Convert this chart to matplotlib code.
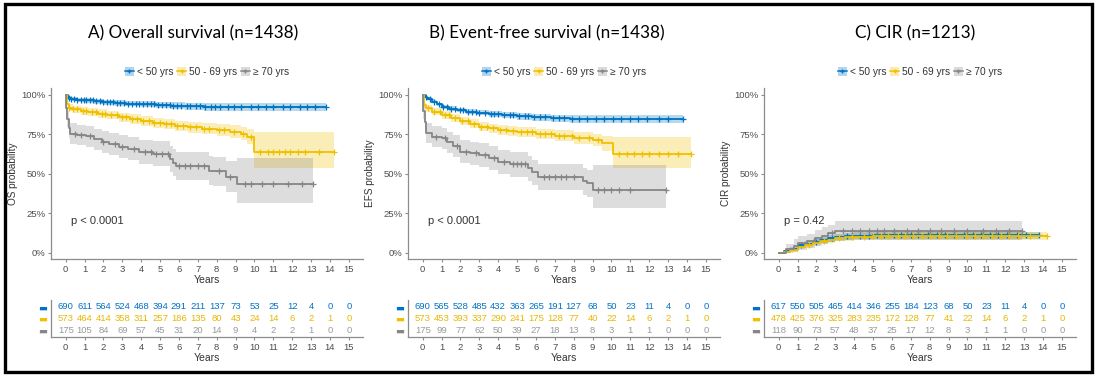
import numpy as np
import matplotlib
matplotlib.use("Agg")
import matplotlib.pyplot as plt
from matplotlib.patches import Patch, Rectangle
from matplotlib.lines import Line2D

plt.rcParams["font.family"] = ["Liberation Sans", "DejaVu Sans"]

groups = ["< 50 yrs", "50 - 69 yrs", "\u2265 70 yrs"]
colors = ["#0073C2", "#EFC000", "#868686"]
titles = ["A) Overall survival (n=1438)", "B) Event-free survival (n=1438)", "C) CIR (n=1213)"]
ylabels = ["OS probability", "EFS probability", "CIR probability"]
pvals = ["p < 0.0001", "p < 0.0001", "p = 0.42"]
years = list(range(16))

# ---- A) overall survival ----
os_blue_t = [0, 0.1, 0.3, 0.6, 1.0, 1.5, 2.0, 2.6, 3.2, 4.0, 4.8, 5.6, 6.3, 7.3, 8.5, 13.8]
os_blue_s = [100, 98.2, 97.6, 97.0, 96.5, 96.0, 95.5, 95.0, 94.5, 94.0, 93.5, 93.2, 92.9, 92.5, 92.3, 92.3]
os_blue_lo = [100, 97.2, 96.4, 95.7, 95.1, 94.5, 93.9, 93.3, 92.7, 92.1, 91.5, 91.0, 90.6, 90.1, 89.8, 89.8]
os_blue_hi = [100, 99.2, 98.8, 98.3, 97.9, 97.5, 97.1, 96.7, 96.3, 95.9, 95.5, 95.4, 95.2, 94.9, 94.8, 94.8]
os_blue_cens = [0.15, 0.3, 0.45, 0.6, 0.8, 0.95, 1.1, 1.3, 1.45, 1.6, 1.8, 2.0, 2.2, 2.35, 2.5, 2.7,
                2.9, 3.1, 3.3, 3.5, 3.7, 3.9, 4.1, 4.3, 4.5, 4.7, 4.9, 5.1, 5.3, 5.5, 5.7, 5.9,
                6.1, 6.4, 6.6, 6.9, 7.1, 7.4, 7.7, 7.9, 8.2, 8.6, 8.9, 9.3, 9.8, 10.2, 10.6,
                11.0, 11.5, 11.9, 12.4, 12.8, 13.2, 13.8]

os_yel_t = [0, 0.05, 0.15, 0.4, 0.8, 1.2, 1.7, 2.2, 2.8, 3.4, 4.0, 4.6, 5.2, 5.8, 6.5, 7.2, 8.0, 8.7, 9.3, 9.6, 10.0, 14.2]
os_yel_s = [100, 94.0, 92.0, 91.0, 90.0, 89.0, 88.2, 87.2, 86.0, 84.8, 83.5, 82.5, 81.5, 80.5, 79.5, 78.6, 77.8, 76.8, 75.5, 73.5, 64.0, 64.0]
os_yel_lo = [100, 92.2, 90.0, 88.8, 87.6, 86.5, 85.6, 84.5, 83.2, 81.9, 80.5, 79.4, 78.3, 77.2, 76.0, 75.0, 74.0, 72.8, 71.2, 68.8, 54.0, 54.0]
os_yel_hi = [100, 95.8, 94.0, 93.2, 92.4, 91.5, 90.8, 89.9, 88.8, 87.7, 86.5, 85.6, 84.7, 83.8, 83.0, 82.2, 81.6, 80.8, 79.8, 78.2, 76.5, 76.5]
os_yel_cens = [0.2, 0.4, 0.6, 0.9, 1.1, 1.4, 1.6, 1.9, 2.1, 2.4, 2.7, 3.0, 3.2, 3.5, 3.8, 4.1,
               4.4, 4.7, 5.0, 5.3, 5.6, 5.9, 6.2, 6.6, 6.9, 7.3, 7.6, 8.1, 8.4, 8.9, 9.4, 9.8,
               10.3, 10.7, 11.0, 11.3, 11.6, 11.9, 12.3, 12.7, 13.4, 14.2]

os_grey_t = [0, 0.03, 0.08, 0.15, 0.25, 0.6, 1.1, 1.5, 1.9, 2.3, 2.8, 3.3, 3.9, 4.6, 5.5, 5.7, 5.85, 7.6, 7.8, 8.5, 9.1, 13.1]
os_grey_s = [100, 92, 85, 79, 75.5, 74.7, 73.8, 72.0, 70.2, 68.8, 67.3, 66.0, 64.2, 62.7, 59.5, 57.0, 54.8, 52.0, 51.6, 48.3, 43.5, 43.5]
os_grey_lo = [100, 88, 80, 73, 69, 68.3, 67.3, 65.3, 63.3, 61.8, 60.1, 58.6, 56.6, 54.8, 51.2, 48.5, 46.0, 42.8, 42.3, 38.6, 31.8, 31.8]
os_grey_hi = [100, 96, 90, 85, 82, 81.2, 80.3, 78.7, 77.1, 75.8, 74.5, 73.4, 71.8, 70.6, 67.8, 65.5, 63.6, 61.2, 60.9, 58.0, 59.9, 59.9]
os_grey_cens = [0.5, 0.8, 1.3, 2.0, 2.6, 3.0, 3.6, 4.2, 4.5, 4.8, 5.1, 5.4, 6.0, 6.3, 6.6, 7.0,
                7.3, 8.1, 8.7, 9.5, 9.8, 10.4, 11.0, 11.8, 12.5, 13.1]

# ---- B) event-free survival ----
efs_blue_t = [0, 0.1, 0.25, 0.5, 0.75, 1.0, 1.4, 1.8, 2.3, 2.9, 3.5, 4.2, 5.0, 5.8, 6.8, 7.8, 9.0, 13.8]
efs_blue_s = [100, 98.5, 97.5, 95.8, 94.0, 92.6, 91.3, 90.4, 89.5, 88.7, 88.0, 87.2, 86.4, 85.9, 85.2, 84.8, 84.5, 84.5]
efs_blue_lo = [100, 97.8, 96.6, 94.7, 92.8, 91.3, 89.9, 88.9, 87.9, 87.0, 86.2, 85.3, 84.4, 83.8, 82.9, 82.4, 82.0, 82.0]
efs_blue_hi = [100, 99.2, 98.4, 96.9, 95.2, 93.9, 92.7, 91.9, 91.1, 90.4, 89.8, 89.1, 88.4, 88.0, 87.5, 87.2, 87.0, 87.0]
efs_blue_cens = [0.2, 0.4, 0.6, 0.85, 1.1, 1.3, 1.5, 1.7, 1.95, 2.15, 2.4, 2.6, 2.8, 3.0, 3.3, 3.6,
                 3.8, 4.0, 4.3, 4.6, 4.8, 5.1, 5.4, 5.6, 5.9, 6.2, 6.5, 6.9, 7.2, 7.5, 7.9, 8.3,
                 8.7, 9.2, 9.6, 10.1, 10.5, 11.0, 11.4, 11.9, 12.5, 13.0, 13.8]

efs_yel_t = [0, 0.05, 0.2, 0.5, 1.0, 1.5, 2.0, 2.5, 3.0, 3.5, 4.0, 4.5, 5.0, 6.0, 7.0, 8.0, 9.0, 9.5, 10.1, 14.2]
efs_yel_s = [100, 93.7, 91.6, 89.5, 87.3, 85.4, 83.5, 81.8, 80.0, 78.8, 77.8, 77.0, 76.4, 75.3, 74.3, 73.0, 71.5, 69.4, 62.4, 62.4]
efs_yel_lo = [100, 91.8, 89.5, 87.2, 84.8, 82.8, 80.8, 79.0, 77.1, 75.8, 74.7, 73.8, 73.1, 71.9, 70.7, 69.2, 67.4, 64.8, 53.6, 53.6]
efs_yel_hi = [100, 95.6, 93.7, 91.8, 89.8, 88.0, 86.2, 84.6, 82.9, 81.8, 80.9, 80.2, 79.7, 78.7, 77.9, 76.8, 75.6, 74.0, 73.6, 73.6]
efs_yel_cens = [0.3, 0.6, 0.9, 1.2, 1.4, 1.7, 2.1, 2.4, 2.7, 3.1, 3.4, 3.7, 4.1, 4.4, 4.8, 5.2,
                5.5, 5.8, 6.2, 6.5, 6.8, 7.2, 7.5, 7.9, 8.3, 8.8, 9.3, 10.4, 10.8, 11.2, 11.6,
                12.0, 12.5, 13.0, 13.5, 14.2]

efs_grey_t = [0, 0.03, 0.1, 0.2, 0.5, 1.0, 1.3, 1.6, 2.0, 2.5, 3.0, 3.5, 4.0, 4.6, 5.6, 5.8, 6.1, 8.5, 8.7, 9.0, 12.9]
efs_grey_s = [100, 90, 83, 76, 73.6, 72.6, 70.0, 67.5, 64.1, 63.0, 62.0, 59.9, 57.8, 56.1, 53.6, 51.0, 48.3, 45.5, 44.0, 39.9, 39.9]
efs_grey_lo = [100, 85, 77, 69.5, 67, 65.9, 63.2, 60.5, 57.0, 55.8, 54.7, 52.4, 50.2, 48.4, 45.7, 42.9, 40.0, 37.0, 35.4, 28.3, 28.3]
efs_grey_hi = [100, 95, 89, 82.5, 80.2, 79.3, 76.8, 74.5, 71.2, 70.2, 69.3, 67.4, 65.4, 63.8, 61.5, 59.1, 56.6, 54.0, 52.6, 55.7, 55.7]
efs_grey_cens = [0.7, 1.2, 1.8, 2.3, 2.8, 3.3, 3.8, 4.3, 4.8, 5.0, 5.2, 5.4, 6.4, 6.7, 7.0,
                 7.3, 7.6, 8.0, 9.3, 9.6, 10.0, 10.4, 11.0, 12.9]

# ---- C) cumulative incidence of relapse ----
cir_blue_t = [0, 0.3, 0.6, 1.0, 1.4, 1.8, 2.2, 2.6, 3.0, 3.5, 4.0, 5.0, 6.0, 13.8]
cir_blue_s = [0, 1.0, 2.5, 4.8, 6.0, 7.2, 8.2, 9.2, 10.0, 10.5, 10.9, 11.1, 11.3, 11.3]
cir_blue_lo = [0, 0.2, 1.2, 3.2, 4.3, 5.4, 6.3, 7.2, 7.9, 8.4, 8.7, 8.9, 9.0, 9.0]
cir_blue_hi = [0, 1.8, 3.8, 6.4, 7.7, 9.0, 10.1, 11.2, 12.1, 12.6, 13.1, 13.3, 13.6, 13.6]
cir_blue_cens = [1.2, 2.0, 2.8, 3.6, 4.3, 4.8, 5.2, 5.6, 6.1, 6.5, 7.0, 7.4, 7.9, 8.4, 8.8,
                 9.3, 9.8, 10.3, 10.7, 11.2, 11.6, 12.1, 12.6, 13.1, 13.8]

cir_yel_t = [0, 0.3, 0.6, 1.0, 1.4, 1.8, 2.2, 2.6, 3.0, 3.5, 4.0, 5.0, 6.0, 14.2]
cir_yel_s = [0, 0.5, 1.8, 3.8, 5.0, 6.3, 7.5, 8.5, 9.3, 9.9, 10.3, 10.6, 10.8, 10.8]
cir_yel_lo = [0, 0.0, 0.8, 2.4, 3.4, 4.6, 5.7, 6.6, 7.3, 7.8, 8.1, 8.4, 8.5, 8.5]
cir_yel_hi = [0, 1.0, 2.8, 5.2, 6.6, 8.0, 9.3, 10.4, 11.3, 12.0, 12.5, 12.8, 13.1, 13.1]
cir_yel_cens = [1.6, 2.4, 3.2, 3.9, 4.5, 5.0, 5.4, 5.8, 6.3, 6.7, 7.1, 7.6, 8.0, 8.5, 8.9, 9.4,
                9.9, 10.4, 10.8, 11.3, 11.8, 12.2, 12.7, 13.3, 14.2]

cir_grey_t = [0, 0.4, 0.8, 1.0, 1.5, 1.9, 2.3, 2.6, 3.0, 12.9]
cir_grey_s = [0, 2.5, 4.5, 6.1, 7.5, 9.3, 11.0, 12.4, 14.0, 14.0]
cir_grey_lo = [0, 0.0, 0.8, 1.9, 3.0, 4.5, 5.9, 7.1, 8.4, 8.4]
cir_grey_hi = [0, 5.5, 8.6, 10.5, 12.2, 14.3, 16.3, 18.0, 20.5, 20.5]
cir_grey_cens = [2.8, 3.4, 3.9, 4.3, 4.8, 5.2, 5.6, 6.1, 6.8, 7.4, 8.0, 8.6, 9.3, 10.0, 10.8,
                 11.5, 12.2, 12.9]

# ---- numbers at risk ----
os_risk_blue = [690, 611, 564, 524, 468, 394, 291, 211, 137, 73, 53, 25, 12, 4, 0, 0]
os_risk_yel = [573, 464, 414, 358, 311, 257, 186, 135, 80, 43, 24, 14, 6, 2, 1, 0]
os_risk_grey = [175, 105, 84, 69, 57, 45, 31, 20, 14, 9, 4, 2, 2, 1, 0, 0]

efs_risk_blue = [690, 565, 528, 485, 432, 363, 265, 191, 127, 68, 50, 23, 11, 4, 0, 0]
efs_risk_yel = [573, 453, 393, 337, 290, 241, 175, 128, 77, 40, 22, 14, 6, 2, 1, 0]
efs_risk_grey = [175, 99, 77, 62, 50, 39, 27, 18, 13, 8, 3, 1, 1, 0, 0, 0]

cir_risk_blue = [617, 550, 505, 465, 414, 346, 255, 184, 123, 68, 50, 23, 11, 4, 0, 0]
cir_risk_yel = [478, 425, 376, 325, 283, 235, 172, 128, 77, 41, 22, 14, 6, 2, 1, 0]
cir_risk_grey = [118, 90, 73, 57, 48, 37, 25, 17, 12, 8, 3, 1, 1, 0, 0, 0]

panels = [
    [(os_blue_t, os_blue_s, os_blue_lo, os_blue_hi, os_blue_cens),
     (os_yel_t, os_yel_s, os_yel_lo, os_yel_hi, os_yel_cens),
     (os_grey_t, os_grey_s, os_grey_lo, os_grey_hi, os_grey_cens)],
    [(efs_blue_t, efs_blue_s, efs_blue_lo, efs_blue_hi, efs_blue_cens),
     (efs_yel_t, efs_yel_s, efs_yel_lo, efs_yel_hi, efs_yel_cens),
     (efs_grey_t, efs_grey_s, efs_grey_lo, efs_grey_hi, efs_grey_cens)],
    [(cir_blue_t, cir_blue_s, cir_blue_lo, cir_blue_hi, cir_blue_cens),
     (cir_yel_t, cir_yel_s, cir_yel_lo, cir_yel_hi, cir_yel_cens),
     (cir_grey_t, cir_grey_s, cir_grey_lo, cir_grey_hi, cir_grey_cens)],
]
risks = [
    [os_risk_blue, os_risk_yel, os_risk_grey],
    [efs_risk_blue, efs_risk_yel, efs_risk_grey],
    [cir_risk_blue, cir_risk_yel, cir_risk_grey],
]
risk_text_colors = ["#0073C2", "#E8B800", "#9A9A9A"]

W, H = 1096, 378
fig = plt.figure(figsize=(W / 100, H / 100), dpi=100)
fig.patches.append(Rectangle((5 / W, 6 / H), 1087 / W, 368 / H, transform=fig.transFigure,
                             fill=False, edgecolor="black", linewidth=2.4))

lefts = [51, 408, 764]
title_x = [193, 547, 915]
axis_col = "#8C8C8C"
tick_col = "#4D4D4D"
xlim = (-0.78, 15.75)

for i in range(3):
    ax = fig.add_axes([lefts[i] / W, 1 - 259 / H, 312 / W, 171 / H])
    for k, (t, s, lo, hi, cens) in enumerate(panels[i]):
        ax.fill_between(t, lo, hi, step="post", color=colors[k], alpha=0.28, linewidth=0)
        ax.step(t, s, where="post", color=colors[k], linewidth=1.3)
        idx = np.searchsorted(t, cens, side="right") - 1
        ax.plot(cens, np.array(s)[idx], linestyle="none", marker="+", color=colors[k],
                markersize=3.8, markeredgewidth=0.9)
    ax.set_xlim(*xlim)
    ax.set_ylim(-3.8, 104.4)
    ax.set_xticks(years)
    ax.set_yticks([0, 25, 50, 75, 100])
    ax.set_yticklabels(["0%", "25%", "50%", "75%", "100%"])
    ax.tick_params(labelsize=6.8, colors=axis_col, labelcolor=tick_col, length=2.5, width=0.8, pad=1.5)
    ax.spines["top"].set_visible(False)
    ax.spines["right"].set_visible(False)
    for sp in ["left", "bottom"]:
        ax.spines[sp].set_color(axis_col)
        ax.spines[sp].set_linewidth(0.9)
    ax.set_xlabel("Years", fontsize=7.5, color="#333333", labelpad=1)
    ax.set_ylabel(ylabels[i], fontsize=7.2, color="#333333", labelpad=2)
    ax.text(0.3, 20, pvals[i], fontsize=8, color="#333333", ha="left", va="center")

    handles = [(Patch(facecolor=colors[k], alpha=0.3, linewidth=0),
                Line2D([], [], color=colors[k], marker="+", markersize=3.5, linewidth=1.1))
               for k in range(3)]
    ax.legend(handles, groups, ncol=3, loc="center", bbox_to_anchor=(0.5, 1.094),
              frameon=False, fontsize=7.3, handlelength=0.9, handleheight=0.9,
              handletextpad=0.3, columnspacing=0.35, borderpad=0, labelcolor="#333333")

    fig.text(title_x[i] / W, 1 - 33 / H, titles[i], fontsize=12.3, family=["Lato", "DejaVu Sans"],
             ha="center", va="center", color="black")

    # numbers at risk table
    tb = fig.add_axes([lefts[i] / W, 1 - 337 / H, 312 / W, 37 / H])
    for k in range(3):
        for x, n in zip(years, risks[i][k]):
            tb.text(x, 3 - k, str(n), fontsize=6.8, color=risk_text_colors[k], ha="center", va="center")
    tb.set_xlim(*xlim)
    tb.set_ylim(0.4, 3.6)
    tb.set_xticks(years)
    tb.set_yticks([3, 2, 1])
    tb.set_yticklabels(["\u25ac", "\u25ac", "\u25ac"], fontsize=6, family="DejaVu Sans")
    tb.tick_params(labelsize=6.8, colors=axis_col, labelcolor=tick_col, length=2.5, width=0.8, pad=1.5)
    tb.tick_params(axis="y", length=0, pad=3)
    for lab, c in zip(tb.get_yticklabels(), colors):
        lab.set_color(c)
    tb.spines["top"].set_visible(False)
    tb.spines["right"].set_visible(False)
    for sp in ["left", "bottom"]:
        tb.spines[sp].set_color(axis_col)
        tb.spines[sp].set_linewidth(0.9)
    tb.set_xlabel("Years", fontsize=7.5, color="#333333", labelpad=1)

fig.savefig("out.png", dpi=100)
